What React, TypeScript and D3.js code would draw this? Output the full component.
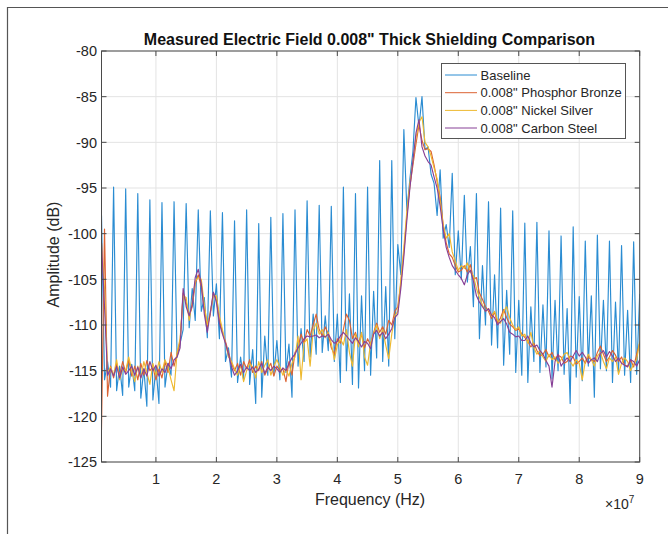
import React from "react";
import * as d3 from "d3";

// Frequency grid of the sampled traces (Hz)
const FREQ_START_HZ = 1e6;
const FREQ_STEP_HZ = 0.5e6;

const X_TICKS = [1, 2, 3, 4, 5, 6, 7, 8, 9]; // ×10^7 Hz
const Y_TICKS = [-80, -85, -90, -95, -100, -105, -110, -115, -120, -125];

const SERIES_NAMES = [
  "Baseline",
  '0.008" Phosphor Bronze',
  '0.008" Nickel Silver',
  '0.008" Carbon Steel',
];
const SERIES_COLORS = ["#2a8cd2", "#dc6333", "#eeb92f", "#874096"];

// dB values every 0.5 MHz from 1 MHz to 90 MHz
const BASELINE = [
  -98.0, -116.0, -114.0, -116.8, -94.9, -117.2, -114.5, -117.7, -95.1, -116.8,
  -114.3, -117.2, -95.6, -118.0, -114.8, -118.9, -96.3, -118.2, -114.6, -118.6,
  -96.6, -116.8, -114.2, -115.5, -96.5, -113.5, -112.0, -110.5, -96.7, -110.3,
  -106.0, -109.5, -97.4, -108.5, -107.0, -111.4, -97.5, -109.0, -105.5, -111.5,
  -97.7, -114.0, -112.5, -115.7, -98.6, -116.3, -113.5, -116.0, -97.4, -116.5,
  -112.7, -118.6, -98.9, -117.9, -111.2, -115.5, -98.2, -115.5, -111.7, -116.0,
  -97.8, -115.2, -112.1, -117.9, -97.4, -114.5, -110.4, -114.0, -96.4, -113.5,
  -108.8, -113.2, -96.9, -113.0, -109.0, -112.8, -97.0, -114.0, -108.8, -116.3,
  -94.9, -115.0, -106.6, -116.5, -95.6, -116.9, -106.8, -115.0, -94.9, -115.5,
  -106.3, -113.6, -92.0, -114.0, -105.8, -114.5, -92.0, -111.5, -101.2, -104.5,
  -88.6, -97.5, -94.0, -91.0, -85.1, -88.3, -85.0, -90.8, -90.5, -93.5,
  -94.5, -98.0, -93.0, -100.5, -99.0, -101.5, -93.4, -104.5, -99.7, -105.0,
  -95.8, -105.3, -101.4, -108.0, -95.6, -111.5, -103.5, -110.0, -96.5, -112.2,
  -104.5, -112.5, -97.2, -114.4, -106.2, -113.2, -97.5, -115.2, -107.3, -115.5,
  -98.85, -116.3, -108.0, -114.0, -98.75, -115.2, -107.8, -114.6, -99.7, -115.9,
  -107.3, -115.0, -100.25, -115.4, -108.2, -118.6, -99.25, -115.7, -106.9, -116.1,
  -100.8, -114.5, -106.8, -117.9, -100.15, -114.8, -107.3, -115.0, -100.8, -116.3,
  -107.5, -115.2, -101.3, -115.5, -108.4, -116.3, -100.9, -115.4, -106.6,
];

const PHOSPHOR_BRONZE = [
  -121.5, -99.5, -117.8, -114.5, -115.8, -114.2, -115.5, -114.0, -115.2, -113.8,
  -115.6, -114.5, -116.0, -114.2, -115.5, -113.9, -115.0, -114.6, -116.0, -114.8,
  -115.8, -114.0, -115.2, -113.0, -114.5, -113.2, -111.8, -106.5, -107.5, -109.0,
  -108.0, -105.5, -104.5, -105.8, -108.2, -110.2, -108.8, -106.5, -107.2, -109.5,
  -110.8, -111.8, -113.0, -114.2, -115.0, -114.2, -115.5, -114.0, -114.8, -113.8,
  -115.2, -114.5, -115.0, -114.0, -115.5, -114.8, -114.2, -115.6, -114.5, -115.0,
  -114.8, -116.2, -114.0, -115.5, -113.0, -112.5, -111.0, -112.0, -110.5, -111.2,
  -110.0, -108.8, -110.5, -111.2, -110.2, -111.0, -112.5, -113.2, -111.5, -112.0,
  -110.5, -108.8, -109.5, -111.5, -110.8, -112.0, -111.0, -112.5, -111.5, -112.2,
  -110.8, -109.8, -110.8, -110.2, -111.0, -109.5, -110.0, -108.5, -108.0, -105.5,
  -102.0, -98.0, -94.8, -92.5, -90.2, -88.1, -89.8, -90.8, -90.7, -91.0,
  -92.5, -94.3, -96.0, -99.0, -101.0, -102.2, -102.6, -103.5, -104.2, -104.0,
  -103.5, -104.2, -103.4, -105.0, -104.8, -106.5, -107.2, -108.0, -108.5, -109.3,
  -108.6, -109.8, -109.2, -108.3, -109.2, -109.9, -110.2, -110.6, -110.4, -111.0,
  -111.35, -111.8, -112.4, -112.0, -112.8, -113.4, -113.2, -112.7, -113.5, -113.0,
  -113.8, -113.3, -113.5, -114.2, -114.0, -113.4, -113.5, -114.3, -114.0, -113.6,
  -114.2, -113.5, -113.8, -114.0, -113.0, -112.3, -113.2, -114.0, -113.5, -112.8,
  -113.3, -114.0, -113.5, -114.4, -114.5, -113.8, -114.6, -113.2, -112.0,
];

const NICKEL_SILVER = [
  -101.0, -106.0, -115.2, -114.6, -115.5, -113.8, -116.0, -114.8, -115.0, -113.5,
  -115.0, -116.2, -114.5, -115.8, -114.0, -115.2, -116.5, -114.2, -115.5, -114.0,
  -115.2, -113.8, -114.6, -116.0, -117.2, -113.0, -111.5, -106.8, -107.0, -109.5,
  -107.5, -105.2, -104.8, -105.0, -107.8, -110.0, -108.5, -106.8, -106.8, -109.0,
  -110.5, -112.0, -113.5, -114.0, -114.8, -115.5, -114.4, -116.2, -115.0, -114.2,
  -114.6, -115.8, -114.0, -115.2, -114.4, -113.8, -115.5, -114.5, -113.8, -114.6,
  -115.5, -114.8, -115.6, -114.2, -113.5, -111.2, -116.0, -112.0, -111.5, -114.5,
  -110.6, -109.8, -111.0, -110.5, -111.4, -110.8, -112.0, -113.8, -112.2, -111.5,
  -112.2, -110.5, -113.0, -114.5, -111.0, -112.4, -110.8, -113.5, -114.4, -112.0,
  -111.0, -110.0, -111.5, -110.5, -112.2, -113.7, -111.0, -109.0, -108.5, -105.0,
  -101.5, -97.5, -94.5, -92.0, -89.5, -87.8, -87.2, -90.0, -90.5, -91.5,
  -92.8, -94.0, -96.5, -99.0, -100.5, -100.0, -102.0, -103.0, -104.0, -103.5,
  -103.8, -103.2, -104.2, -104.6, -106.0, -107.0, -107.8, -108.5, -108.2, -109.0,
  -108.5, -109.5, -109.8, -108.5, -108.0, -109.2, -110.0, -110.5, -110.2, -111.2,
  -111.0, -112.0, -110.8, -112.5, -113.2, -112.8, -113.5, -114.0, -113.2, -113.8,
  -113.5, -114.2, -113.8, -113.2, -113.0, -114.0, -114.5, -113.8, -114.2, -116.0,
  -114.0, -113.2, -113.8, -114.5, -113.4, -113.0, -114.0, -114.8, -113.6, -114.0,
  -113.5, -115.4, -114.2, -113.6, -114.0, -115.0, -114.3, -113.8, -111.8,
];

const CARBON_STEEL = [
  -101.0, -108.0, -115.5, -114.8, -115.6, -114.5, -115.8, -114.6, -115.4, -115.0,
  -114.5, -115.5, -114.6, -115.8, -114.8, -115.6, -114.0, -115.0, -114.4, -115.6,
  -114.8, -115.2, -114.2, -114.8, -113.8, -113.5, -112.5, -106.0, -108.0, -109.0,
  -107.8, -104.8, -103.9, -105.5, -108.8, -110.8, -108.6, -106.4, -107.5, -109.8,
  -111.0, -112.0, -113.2, -114.6, -115.5, -115.0, -114.3, -115.2, -114.6, -115.0,
  -114.6, -115.2, -114.8, -114.2, -115.3, -114.6, -115.0, -114.5, -114.8, -115.2,
  -114.7, -115.0, -114.2, -113.6, -113.2, -112.5, -112.0, -111.5, -111.2, -111.3,
  -111.2, -111.1, -111.4, -111.2, -111.3, -111.0, -111.6, -112.0, -111.8, -111.2,
  -110.8, -111.2, -111.6, -112.0, -111.4, -111.8, -112.4, -111.8, -112.0, -112.6,
  -111.0, -110.6, -111.2, -110.8, -111.5, -111.0, -110.4, -109.2, -108.8, -106.0,
  -102.5, -98.5, -95.0, -92.0, -89.0, -87.5, -90.5, -91.5, -92.1, -92.5,
  -93.8, -95.0, -97.0, -99.5, -101.5, -102.6, -103.5, -104.0, -104.5, -104.9,
  -105.6, -104.5, -104.0, -105.2, -106.8, -107.5, -108.0, -108.5, -108.2, -108.9,
  -109.2, -110.0, -109.6, -109.3, -109.9, -110.8, -111.0, -111.3, -111.2, -111.7,
  -111.7, -111.2, -112.0, -112.4, -112.2, -112.8, -113.2, -113.9, -114.5, -116.8,
  -114.0, -113.2, -114.5, -114.0, -113.6, -114.0, -113.4, -112.8, -113.4, -113.0,
  -113.5, -114.2, -113.8, -113.6, -114.0, -113.1, -112.8, -113.5, -112.9, -113.4,
  -114.0, -113.6, -114.2, -114.4, -114.6, -113.8, -114.0, -114.5, -113.8,
];

const SERIES = [BASELINE, PHOSPHOR_BRONZE, NICKEL_SILVER, CARBON_STEEL];

const W = 668;
const H = 534;
const PLOT = { left: 101.5, right: 639.7, top: 51, bottom: 462 };
const FONT = "'Liberation Sans', Arial, Helvetica, sans-serif";

export default function App() {
  const x = d3.scaleLinear().domain([1e6, 9e7]).range([PLOT.left, PLOT.right]);
  const y = d3.scaleLinear().domain([-125, -80]).range([PLOT.bottom, PLOT.top]);
  const line = d3
    .line<number>()
    .x((_, i) => x(FREQ_START_HZ + i * FREQ_STEP_HZ))
    .y((v) => y(v));

  const tickLen = 5;
  const legend = { x: 441.5, y: 63.5, w: 184, h: 75 };
  const legendRowY = [75, 92.7, 110.4, 128];

  return (
    <svg
      width={W}
      height={H}
      viewBox={`0 0 ${W} ${H}`}
      style={{ position: "absolute", left: 0, top: 0, background: "#fff" }}
      fontFamily={FONT}
    >
      <rect x={0} y={0} width={W} height={H} fill="#fff" />
      {/* outer frame */}
      <path d={`M7.5,${H} V7.5 H${W}`} fill="none" stroke="#555" strokeWidth={1.2} />

      {/* grid */}
      <g stroke="#e3e3e3" strokeWidth={1}>
        {X_TICKS.map((t) => (
          <line key={"gx" + t} x1={x(t * 1e7)} x2={x(t * 1e7)} y1={PLOT.top} y2={PLOT.bottom} />
        ))}
        {Y_TICKS.map((t) => (
          <line key={"gy" + t} x1={PLOT.left} x2={PLOT.right} y1={y(t)} y2={y(t)} />
        ))}
      </g>

      {/* data */}
      <defs>
        <clipPath id="plotClip">
          <rect x={PLOT.left} y={PLOT.top} width={PLOT.right - PLOT.left} height={PLOT.bottom - PLOT.top} />
        </clipPath>
      </defs>
      <g clipPath="url(#plotClip)" fill="none" strokeLinejoin="round">
        {SERIES.map((s, k) => (
          <path key={k} d={line(s) || ""} stroke={SERIES_COLORS[k]} strokeWidth={1.15} />
        ))}
      </g>

      {/* axes box */}
      <rect
        x={PLOT.left}
        y={PLOT.top}
        width={PLOT.right - PLOT.left}
        height={PLOT.bottom - PLOT.top}
        fill="none"
        stroke="#4a4a4a"
        strokeWidth={1}
      />
      <g stroke="#4a4a4a" strokeWidth={1}>
        {X_TICKS.map((t) => (
          <g key={"tx" + t}>
            <line x1={x(t * 1e7)} x2={x(t * 1e7)} y1={PLOT.bottom} y2={PLOT.bottom - tickLen} />
            <line x1={x(t * 1e7)} x2={x(t * 1e7)} y1={PLOT.top} y2={PLOT.top + tickLen} />
          </g>
        ))}
        {Y_TICKS.map((t) => (
          <g key={"ty" + t}>
            <line x1={PLOT.left} x2={PLOT.left + tickLen} y1={y(t)} y2={y(t)} />
            <line x1={PLOT.right} x2={PLOT.right - tickLen} y1={y(t)} y2={y(t)} />
          </g>
        ))}
      </g>

      {/* tick labels */}
      <g fontSize={14.5} fill="#262626">
        {X_TICKS.map((t) => (
          <text key={"lx" + t} x={x(t * 1e7)} y={483.5} textAnchor="middle">
            {t}
          </text>
        ))}
        {Y_TICKS.map((t) => (
          <text key={"ly" + t} x={97} y={y(t)} dy="0.36em" textAnchor="end">
            {t}
          </text>
        ))}
      </g>

      {/* exponent */}
      <text x={605} y={508.5} fontSize={14} fill="#262626">
        ×10
        <tspan dy={-6} fontSize={10}>7</tspan>
      </text>

      {/* axis labels */}
      <text x={370} y={505} fontSize={16} textAnchor="middle" fill="#262626">
        Frequency (Hz)
      </text>
      <text
        transform={`translate(59,254.5) rotate(-90)`}
        fontSize={16}
        textAnchor="middle"
        fill="#262626"
      >
        Amplitude (dB)
      </text>

      {/* title */}
      <text x={369.5} y={44.5} fontSize={16} fontWeight="bold" textAnchor="middle" fill="#111">
        Measured Electric Field 0.008" Thick Shielding Comparison
      </text>

      {/* legend */}
      <rect x={legend.x} y={legend.y} width={legend.w} height={legend.h} fill="#fff" stroke="#555" strokeWidth={1} />
      {SERIES_NAMES.map((name, k) => (
        <g key={name}>
          <line x1={445} x2={477} y1={legendRowY[k]} y2={legendRowY[k]} stroke={SERIES_COLORS[k]} strokeWidth={1} />
          <text x={480.5} y={legendRowY[k]} dy="0.36em" fontSize={13} fill="#262626">
            {name}
          </text>
        </g>
      ))}
    </svg>
  );
}
